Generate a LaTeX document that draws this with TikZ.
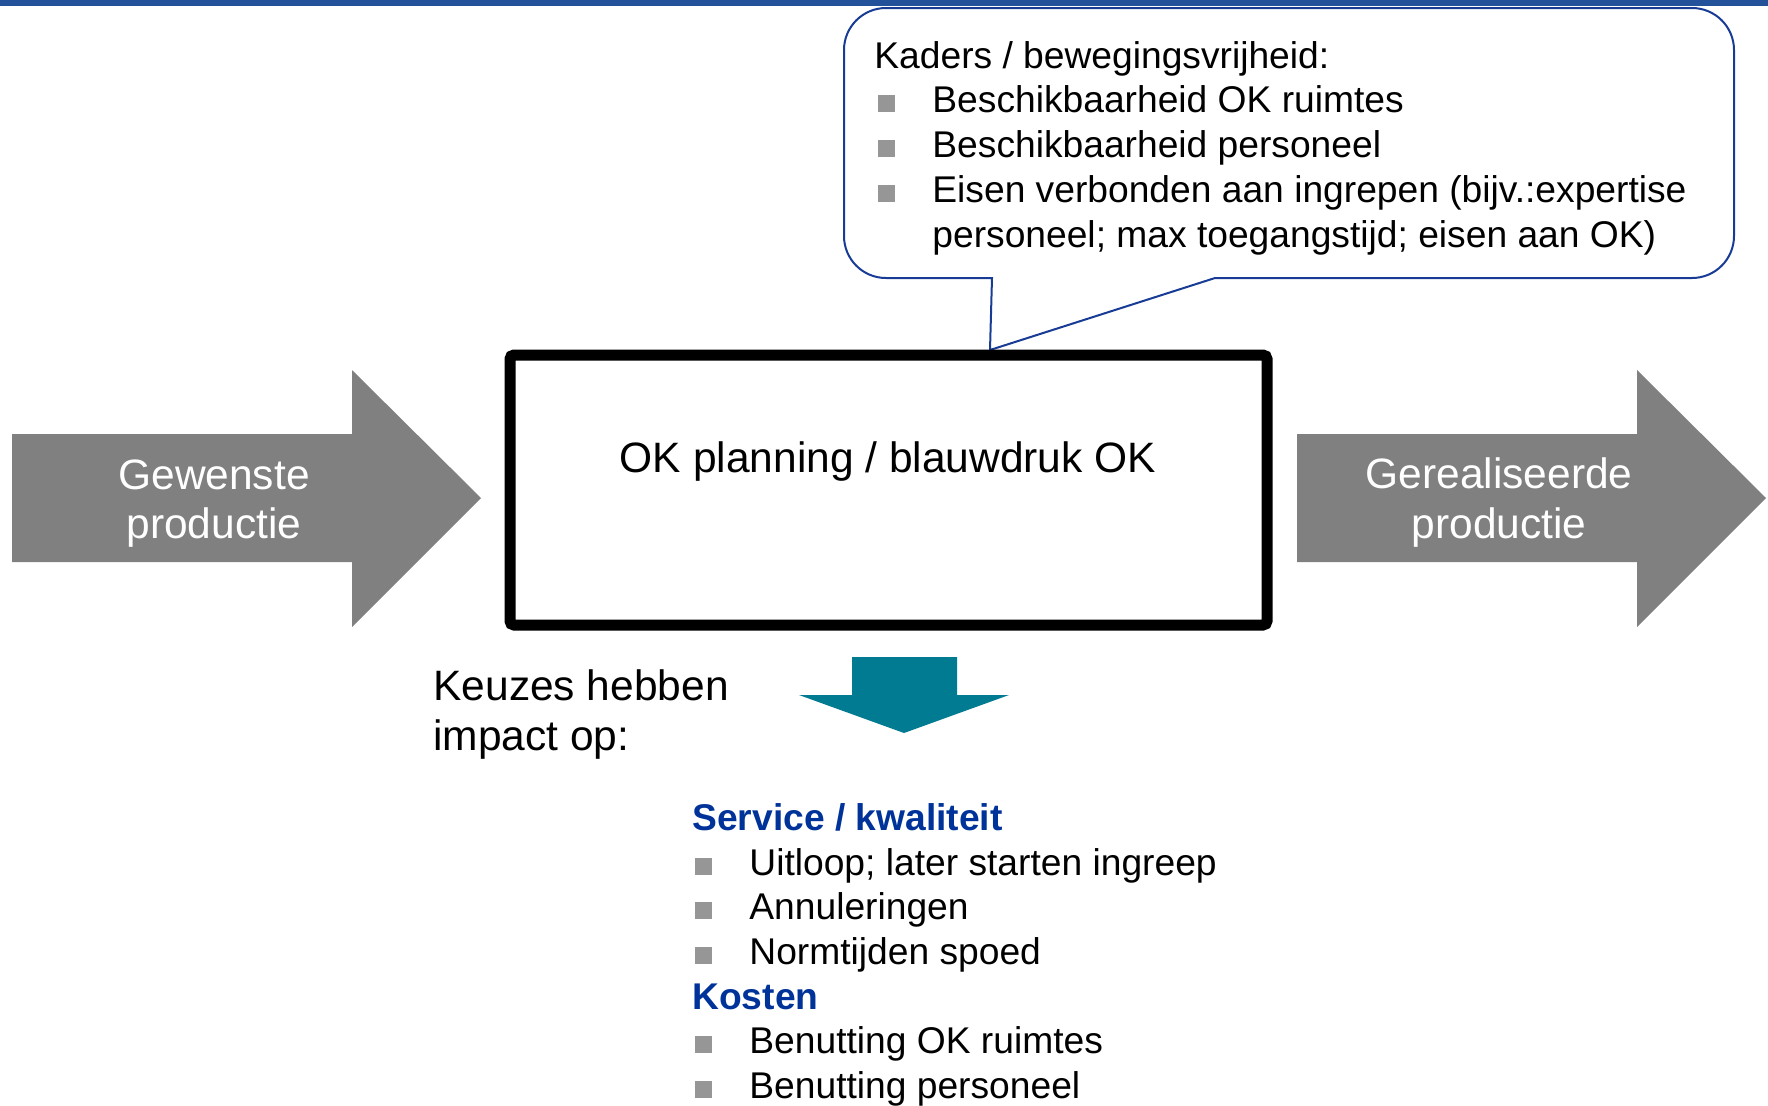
\documentclass[tikz,border=0pt]{standalone}
\usepackage{fontspec}
\setmainfont{Liberation Sans}
\usepackage{xcolor}
\usepackage{tikz}

\definecolor{barblue}{RGB}{36,82,154}
\definecolor{lineblue}{RGB}{24,60,150}
\definecolor{headblue}{RGB}{0,51,153}
\definecolor{flowgray}{RGB}{128,128,128}
\definecolor{bulgray}{RGB}{150,150,150}
\definecolor{okteal}{RGB}{0,123,145}

\newcommand{\sqbul}{\makebox[27pt][l]{\textcolor{bulgray}{\rule{8.5pt}{8.5pt}}}}

\begin{document}
\begin{tikzpicture}[
    x=0.5pt, y=-0.5pt,
    bigtxt/.style={font=\fontsize{21.25pt}{25pt}\selectfont, inner sep=0pt, anchor=base},
    flowtxt/.style={bigtxt, text=white},
    itemtxt/.style={font=\fontsize{18.6pt}{22.4pt}\selectfont, inner sep=0pt, anchor=base west},
    headtxt/.style={itemtxt, font=\fontsize{18.6pt}{22.4pt}\selectfont\bfseries, text=headblue},
    mainbox/.style={draw, line width=5.5pt, rounded corners=2pt, minimum width=378.5pt, minimum height=135pt, inner sep=0pt},
    callout/.style={draw=lineblue, line width=1pt, fill=white},
    flow/.style={fill=flowgray},
]
\useasboundingbox (0,0) rectangle (1768,1105);
\fill[barblue] (0,0) rectangle (1768,6);

% callout with constraints
\coordinate (tip) at (990,350);
\draw[callout] (tip) -- (1215,278) [rounded corners=21pt] -- (1734,278) -- (1734,8) -- (844,8) -- (844,278) [sharp corners] -- (992,278) -- cycle;
\node[itemtxt] (kaders) at (874,68) {Kaders / bewegingsvrijheid:};
\node[itemtxt] (k1) at (878,112) {\sqbul Beschikbaarheid OK ruimtes};
\node[itemtxt] (k2) at (878,157) {\sqbul Beschikbaarheid personeel};
\node[itemtxt] (k3) at (878,202) {\sqbul Eisen verbonden aan ingrepen (bijv.:expertise};
\node[itemtxt] (k3b) at (932,247) {personeel; max toegangstijd; eisen aan OK)};

% main box
\node[mainbox] (plan) at (888.5,490) {};
\node[bigtxt] (plantxt) at (888,472) {OK planning / blauwdruk OK};

% in- and output arrows
\fill[flow] (12,434) -- (352,434) -- (352,370) -- (481,498) -- (352,627) -- (352,562) -- (12,562) -- cycle;
\node[flowtxt] (gew1) at (214,489) {Gewenste};
\node[flowtxt] (gew2) at (214,538) {productie};
\fill[flow] (1297,434) -- (1637,434) -- (1637,370) -- (1766,498) -- (1637,627) -- (1637,562) -- (1297,562) -- cycle;
\node[flowtxt] (ger1) at (1499,488) {Gerealiseerde};
\node[flowtxt] (ger2) at (1499,538) {productie};

% impact
\node[bigtxt, anchor=base west] (keuze1) at (433,700) {Keuzes hebben};
\node[bigtxt, anchor=base west] (keuze2) at (433,750) {impact op:};
\fill[okteal] (852,657) -- (957,657) -- (957,695) -- (1009,695) -- (904,733) -- (799,695) -- (852,695) -- cycle;

\node[headtxt] (service) at (692,830) {Service / kwaliteit};
\node[itemtxt] (s1) at (695,875) {\sqbul Uitloop; later starten ingreep};
\node[itemtxt] (s2) at (695,919) {\sqbul Annuleringen};
\node[itemtxt] (s3) at (695,964) {\sqbul Normtijden spoed};
\node[headtxt] (kosten) at (692,1009) {Kosten};
\node[itemtxt] (c1) at (695,1053) {\sqbul Benutting OK ruimtes};
\node[itemtxt] (c2) at (695,1098) {\sqbul Benutting personeel};
\end{tikzpicture}
\end{document}
